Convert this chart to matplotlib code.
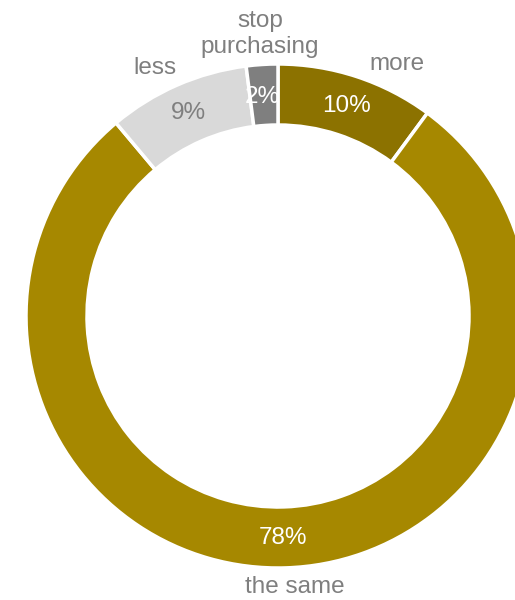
import matplotlib.pyplot as plt

# purchase intent shares
categories = ["more", "the same", "less", "stop\npurchasing"]
values = [10, 78, 9, 2]
colors = ["#8C7200", "#A68800", "#D9D9D9", "#7F7F7F"]
pct_colors = ["white", "white", "#7F7F7F", "white"]

plt.rcParams['font.family'] = ['Liberation Sans', 'DejaVu Sans']

fig = plt.figure(figsize=(5.15, 6), dpi=100)
ax = fig.add_axes([0, 0, 1, 1])
ax.set_xlim(0, 515)
ax.set_ylim(0, 600)
ax.set_aspect('equal')
ax.axis('off')

cx, cy, R, w = 278, 284, 252, 61
wedges, _ = ax.pie(values, colors=colors, startangle=90, counterclock=False,
                   center=(cx, cy), radius=R,
                   wedgeprops=dict(width=w, edgecolor='white', linewidth=2.5))
ax.set_xlim(0, 515)
ax.set_ylim(0, 600)

# percent labels inside ring, category labels outside
pct_pos = [(347, 106), (283, 538), (188, 113), (262, 97)]
lab_pos = [(397, 64), (295, 587), (155, 68), (260, 34)]
for v, c, pp, lp, cat in zip(values, pct_colors, pct_pos, lab_pos, categories):
    ax.text(pp[0], 600 - pp[1], f"{v}%", color=c, fontsize=17.5,
            ha='center', va='center')
    ax.text(lp[0], 600 - lp[1], cat, color="#7F7F7F", fontsize=17.5,
            ha='center', va='center', linespacing=1.25)

fig.savefig("out.png", dpi=100)
